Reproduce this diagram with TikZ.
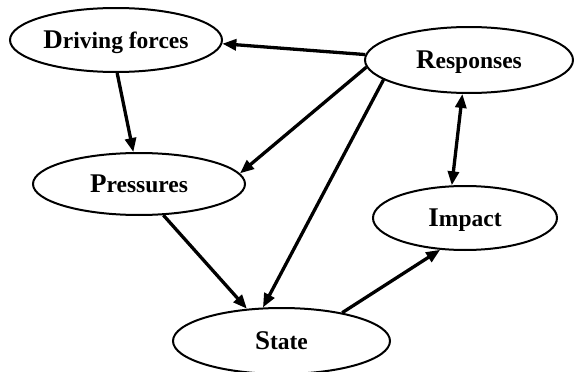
\documentclass[tikz,border=0pt]{standalone}
\usepackage{fontspec}
\setmainfont{Liberation Serif}
\usetikzlibrary{shapes.geometric,arrows.meta}
\newcommand\initialcap[1]{{\fontsize{27}{27}\selectfont #1}}
\tikzset{
  box/.style={draw, ellipse, line width=2pt, inner sep=0pt, text depth=0pt,
    font=\bfseries\fontsize{23.5}{23.5}\selectfont},
  arr/.style={line width=3.3pt, -{Triangle[length=14pt,width=11pt]}},
  dbl/.style={line width=3.3pt, {Triangle[length=14pt,width=11pt]}-{Triangle[length=14pt,width=11pt]}},
}
\begin{document}
\begin{tikzpicture}[x=1pt,y=-1pt]
\useasboundingbox (0,0) rectangle (574,372);
\clip (0,0) rectangle (574,372);
\fill[white] (0,0) rectangle (574,372);
\node[box, minimum width=212pt, minimum height=64pt] (drive) at (116,40) {\initialcap{D}riving forces};
\node[box, minimum width=208pt, minimum height=66pt] (resp) at (469,60) {\initialcap{R}esponses};
\node[box, minimum width=212pt, minimum height=62pt] (press) at (139,184) {\initialcap{P}ressures};
\node[box, minimum width=184pt, minimum height=64pt] (impact) at (465,218) {\initialcap{I}mpact};
\node[box, minimum width=217pt, minimum height=66pt] (state) at (281.5,341) {\initialcap{S}tate};
\draw[arr] (resp.177.3) -- (drive.-2.6);
\draw[arr] (resp.184.9) -- (press.6.6);
\draw[arr] (resp.193.2) -- (state.119.3);
\draw[arr] (drive.-88) -- (press.100.6);
\draw[arr] (press.-52.3) -- (state.137.9);
\draw[arr] (state.25.1) -- (impact.232);
\draw[dbl] (resp.259.7) -- (impact.112.7);
\end{tikzpicture}
\end{document}
